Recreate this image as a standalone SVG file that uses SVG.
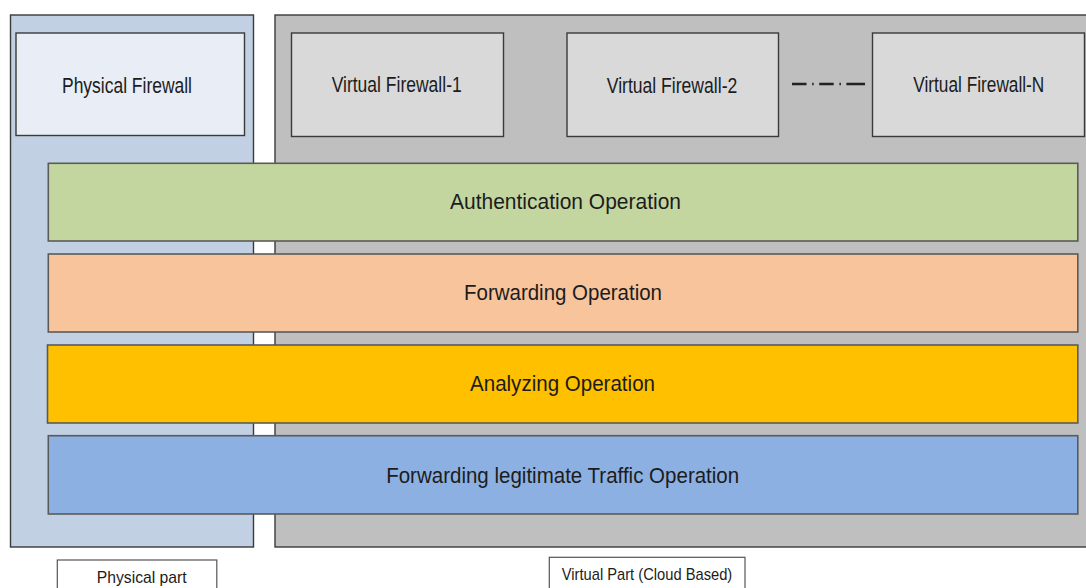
<svg xmlns="http://www.w3.org/2000/svg" width="1086" height="588" viewBox="0 0 1086 588">
<style>
text{font-family:"Liberation Sans",Arial,sans-serif;fill:#1c1c1c;text-anchor:middle;}
.cont{stroke:#3a3a3a;stroke-width:1.4;}
.fw{stroke:#3a3a3a;stroke-width:1.4;}
.bar{stroke:#5a5a5a;stroke-width:1.6;}
.lbl{fill:#ffffff;stroke:#555555;stroke-width:1.2;}
.t1{font-size:22.5px;}
.t2{font-size:22.5px;}
.t3{font-size:17px;}
</style>
<rect width="1086" height="588" fill="#ffffff"/>
<g id="physical-part">
<rect class="cont" x="10.5" y="15" width="243" height="532" fill="#c2d0e3"/>
</g>
<g id="virtual-part">
<rect class="cont" x="275" y="15" width="820" height="532" fill="#bfbfbf"/>
</g>
<g id="physical-firewall">
<rect class="fw" x="16" y="33" width="228.5" height="102.5" fill="#e9edf5"/>
<text class="t1" x="127" y="92.5" textLength="130" lengthAdjust="spacingAndGlyphs">Physical Firewall</text>
</g>
<g id="virtual-firewall-1">
<rect class="fw" x="291.5" y="33" width="212" height="103.5" fill="#d9d9d9"/>
<text class="t1" x="396.7" y="92" textLength="130" lengthAdjust="spacingAndGlyphs">Virtual Firewall-1</text>
</g>
<g id="virtual-firewall-2">
<rect class="fw" x="567" y="33" width="211.5" height="103.5" fill="#d9d9d9"/>
<text class="t1" x="672" y="92.5" textLength="130.5" lengthAdjust="spacingAndGlyphs">Virtual Firewall-2</text>
</g>
<g id="virtual-firewall-n">
<rect class="fw" x="872.5" y="33" width="212" height="103.5" fill="#d9d9d9"/>
<text class="t1" x="978.8" y="92" textLength="131" lengthAdjust="spacingAndGlyphs">Virtual Firewall-N</text>
</g>
<g id="connectors">
<line x1="792" y1="84" x2="865" y2="84" stroke="#222222" stroke-width="2.4" stroke-dasharray="14.5 5.7 1.5 5.5 14.5 5.7 1.5 5.5 20 10"/>
</g>
<g id="authentication-operation">
<rect class="bar" x="48.3" y="163.3" width="1029.5" height="77.7" fill="#c4d6a0"/>
<text class="t2" x="565.5" y="208.5" textLength="231" lengthAdjust="spacingAndGlyphs">Authentication Operation</text>
</g>
<g id="forwarding-operation">
<rect class="bar" x="48.3" y="254" width="1029.5" height="78" fill="#f8c49c"/>
<text class="t2" x="563" y="299.5" textLength="198" lengthAdjust="spacingAndGlyphs">Forwarding Operation</text>
</g>
<g id="analyzing-operation">
<rect class="bar" x="47.5" y="345" width="1030.3" height="78" fill="#ffc000"/>
<text class="t2" x="562.5" y="390.5" textLength="185" lengthAdjust="spacingAndGlyphs">Analyzing Operation</text>
</g>
<g id="forwarding-legitimate-traffic-operation">
<rect class="bar" x="48.3" y="435.7" width="1029.5" height="78.3" fill="#8db0e2"/>
<text class="t2" x="562.7" y="482.5" textLength="353" lengthAdjust="spacingAndGlyphs">Forwarding legitimate Traffic Operation</text>
</g>
<g id="label-physical-part">
<rect class="lbl" x="57.3" y="560" width="159.5" height="40"/>
<text class="t3" x="141.7" y="583" textLength="90" lengthAdjust="spacingAndGlyphs">Physical part</text>
</g>
<g id="label-virtual-part">
<rect class="lbl" x="549.3" y="557.3" width="195.7" height="40"/>
<text class="t3" x="647" y="580" textLength="170.5" lengthAdjust="spacingAndGlyphs">Virtual Part (Cloud Based)</text>
</g>
</svg>
